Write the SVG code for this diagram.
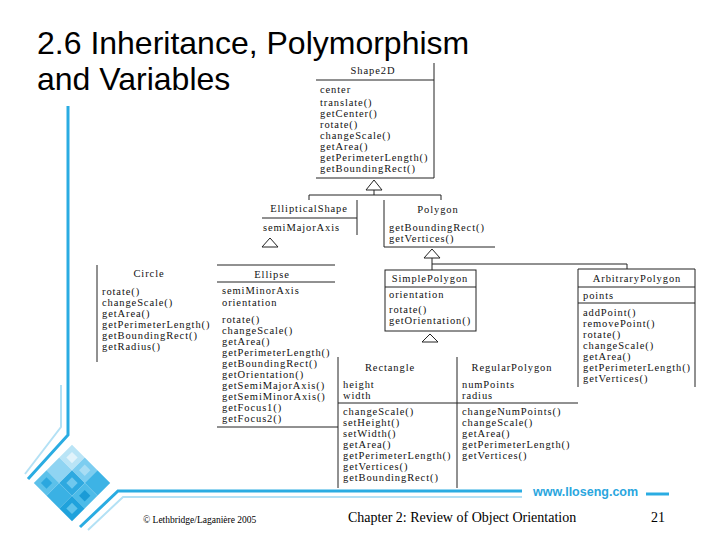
<svg xmlns="http://www.w3.org/2000/svg" width="720" height="540" viewBox="0 0 720 540">
<style>
.u{font-family:"Liberation Serif","Times New Roman",serif;font-size:10.5px;letter-spacing:0.9px;fill:#111}
.c{text-anchor:middle}
.l{stroke:#222;stroke-width:1;fill:none}
.tri{stroke:#222;stroke-width:1;fill:#fff}
.h{font-family:"Liberation Sans",Arial,sans-serif;font-size:32px;fill:#000}
.f{font-family:"Liberation Serif","Times New Roman",serif;fill:#000}
.deco{stroke:#2aace2;fill:none}
.decol{stroke:#b3e1f5;fill:none}
</style>
<rect width="720" height="540" fill="#fff"/>

<g id="title">
<text class="h" x="37" y="54">2.6 Inheritance, Polymorphism</text>
<text class="h" x="37" y="90">and Variables</text>
</g>

<g id="decoration">
<polyline class="decol" stroke-width="2" points="61,385 61,427 25,474"/>
<polyline class="deco" stroke-width="3" points="68,106 68,435 28,479"/>
<polyline class="decol" stroke-width="2" points="88,530 123,497 522,497"/>
<polyline class="deco" stroke-width="3" points="80,527 118,491 522,491"/>
<line class="deco" x1="646" y1="494" x2="669" y2="494" stroke-width="3"/>
<g transform="translate(72,483) rotate(45)">
<rect x="-27" y="-27" width="18" height="18" fill="#b9e4f6"/>
<rect x="-9" y="-27" width="18" height="18" fill="#7ccdf0"/>
<rect x="9" y="-27" width="18" height="18" fill="#3db3e5"/>
<rect x="-27" y="-9" width="18" height="18" fill="#8fd4f2"/>
<rect x="-9" y="-9" width="18" height="18" fill="#2ea9e0"/>
<rect x="9" y="-9" width="18" height="18" fill="#4dbbe8"/>
<rect x="-27" y="9" width="18" height="18" fill="#5cc1ea"/>
<rect x="-9" y="9" width="18" height="18" fill="#3ab1e4"/>
<rect x="9" y="9" width="18" height="18" fill="#1fa2dc"/>
<rect x="-22" y="-22" width="8" height="8" fill="#e1f3fb"/>
<rect x="-4" y="-4" width="8" height="8" fill="#6fc8ee"/>
<rect x="14" y="-4" width="8" height="8" fill="#1b9bd6"/>
<rect x="-22" y="14" width="8" height="8" fill="#2ba7df"/>
<rect x="14" y="14" width="8" height="8" fill="#5fc3eb"/>
<rect x="-4" y="-22" width="8" height="8" fill="#a8ddf4"/>
</g>
<text x="533" y="496" font-family="'Liberation Sans',Arial,sans-serif" font-size="12.5" font-weight="bold" fill="#2aa6de">www.lloseng.com</text>
</g>

<g id="Shape2D">
<text class="u c" x="373" y="74">Shape2D</text>
<line class="l" x1="434" y1="63" x2="434" y2="178"/>
<line class="l" x1="316" y1="80" x2="434" y2="80"/>
<line class="l" x1="316" y1="178" x2="434" y2="178"/>
<text class="u" x="320" y="93">center</text>
<text class="u" x="320" y="106">translate()</text>
<text class="u" x="320" y="117">getCenter()</text>
<text class="u" x="320" y="128">rotate()</text>
<text class="u" x="320" y="139">changeScale()</text>
<text class="u" x="320" y="150">getArea()</text>
<text class="u" x="320" y="161">getPerimeterLength()</text>
<text class="u" x="320" y="172">getBoundingRect()</text>
</g>

<g id="EllipticalShape">
<text class="u c" x="309" y="212">EllipticalShape</text>
<line class="l" x1="357" y1="200" x2="357" y2="235"/>
<line class="l" x1="262" y1="218" x2="357" y2="218"/>
<text class="u" x="263" y="231">semiMajorAxis</text>
</g>

<g id="Polygon">
<text class="u c" x="438" y="213">Polygon</text>
<line class="l" x1="384" y1="200" x2="384" y2="247"/>
<line class="l" x1="384" y1="247" x2="495" y2="247"/>
<text class="u" x="389" y="231">getBoundingRect()</text>
<text class="u" x="389" y="242">getVertices()</text>
</g>

<g id="Circle">
<line class="l" x1="97" y1="265" x2="97" y2="362"/>
<text class="u c" x="149" y="277">Circle</text>
<text class="u" x="102" y="295">rotate()</text>
<text class="u" x="102" y="306">changeScale()</text>
<text class="u" x="102" y="317">getArea()</text>
<text class="u" x="102" y="328">getPerimeterLength()</text>
<text class="u" x="102" y="339">getBoundingRect()</text>
<text class="u" x="102" y="350">getRadius()</text>
</g>

<g id="Ellipse">
<line class="l" x1="217" y1="265" x2="335" y2="265"/>
<text class="u c" x="272" y="278">Ellipse</text>
<line class="l" x1="217" y1="282" x2="335" y2="282"/>
<text class="u" x="222" y="294">semiMinorAxis</text>
<text class="u" x="222" y="306">orientation</text>
<text class="u" x="222" y="323">rotate()</text>
<text class="u" x="222" y="334">changeScale()</text>
<text class="u" x="222" y="345">getArea()</text>
<text class="u" x="222" y="356">getPerimeterLength()</text>
<text class="u" x="222" y="367">getBoundingRect()</text>
<text class="u" x="222" y="378">getOrientation()</text>
<text class="u" x="222" y="389">getSemiMajorAxis()</text>
<text class="u" x="222" y="400">getSemiMinorAxis()</text>
<text class="u" x="222" y="411">getFocus1()</text>
<text class="u" x="222" y="422">getFocus2()</text>
<line class="l" x1="217" y1="427" x2="338" y2="427"/>
</g>

<g id="SimplePolygon">
<rect class="l" x="385" y="270" width="91" height="61"/>
<text class="u c" x="430" y="282">SimplePolygon</text>
<line class="l" x1="385" y1="287" x2="476" y2="287"/>
<text class="u" x="389" y="298">orientation</text>
<text class="u" x="389" y="313">rotate()</text>
<text class="u" x="389" y="324">getOrientation()</text>
</g>

<g id="ArbitraryPolygon">
<line class="l" x1="578" y1="269" x2="695" y2="269"/>
<line class="l" x1="578" y1="269" x2="578" y2="387"/>
<line class="l" x1="695" y1="269" x2="695" y2="387"/>
<text class="u c" x="637" y="282">ArbitraryPolygon</text>
<line class="l" x1="578" y1="287" x2="695" y2="287"/>
<text class="u" x="583" y="299">points</text>
<line class="l" x1="578" y1="303" x2="695" y2="303"/>
<text class="u" x="583" y="316">addPoint()</text>
<text class="u" x="583" y="327">removePoint()</text>
<text class="u" x="583" y="338">rotate()</text>
<text class="u" x="583" y="349">changeScale()</text>
<text class="u" x="583" y="360">getArea()</text>
<text class="u" x="583" y="371" textLength="108" lengthAdjust="spacingAndGlyphs">getPerimeterLength()</text>
<text class="u" x="583" y="382">getVertices()</text>
</g>

<g id="Rectangle">
<line class="l" x1="338" y1="357" x2="338" y2="488"/>
<text class="u c" x="390" y="371">Rectangle</text>
<text class="u" x="343" y="388">height</text>
<text class="u" x="343" y="399">width</text>
<line class="l" x1="338" y1="403" x2="457" y2="403"/>
<text class="u" x="343" y="415">changeScale()</text>
<text class="u" x="343" y="426">setHeight()</text>
<text class="u" x="343" y="437">setWidth()</text>
<text class="u" x="343" y="448">getArea()</text>
<text class="u" x="343" y="459">getPerimeterLength()</text>
<text class="u" x="343" y="470">getVertices()</text>
<text class="u" x="343" y="481">getBoundingRect()</text>
</g>

<g id="RegularPolygon">
<line class="l" x1="457" y1="357" x2="457" y2="488"/>
<text class="u c" x="512" y="371">RegularPolygon</text>
<text class="u" x="462" y="388">numPoints</text>
<text class="u" x="462" y="399">radius</text>
<line class="l" x1="457" y1="403" x2="578" y2="403"/>
<text class="u" x="462" y="415">changeNumPoints()</text>
<text class="u" x="462" y="426">changeScale()</text>
<text class="u" x="462" y="437">getArea()</text>
<text class="u" x="462" y="448">getPerimeterLength()</text>
<text class="u" x="462" y="459">getVertices()</text>
</g>

<g id="connectors">
<polygon class="tri" points="374,180 366,190 382,190"/>
<line class="l" x1="374" y1="190" x2="374" y2="195"/>
<polyline class="l" points="309,200 309,195 441,195 441,200"/>
<polygon class="tri" points="270,238 262,247 278,247"/>
<polygon class="tri" points="432,249 424,258 440,258"/>
<polyline class="l" points="432,258 432,270"/>
<polyline class="l" points="432,264 627,264 627,269"/>
<polygon class="tri" points="430,334 422,342 438,342"/>
</g>

<g id="footer">
<text class="f" x="143" y="523" font-size="9.5">© Lethbridge/Laganière 2005</text>
<text class="f" x="348" y="522" font-size="14">Chapter 2: Review of Object Orientation</text>
<text class="f" x="651" y="522" font-size="14">21</text>
</g>
</svg>
